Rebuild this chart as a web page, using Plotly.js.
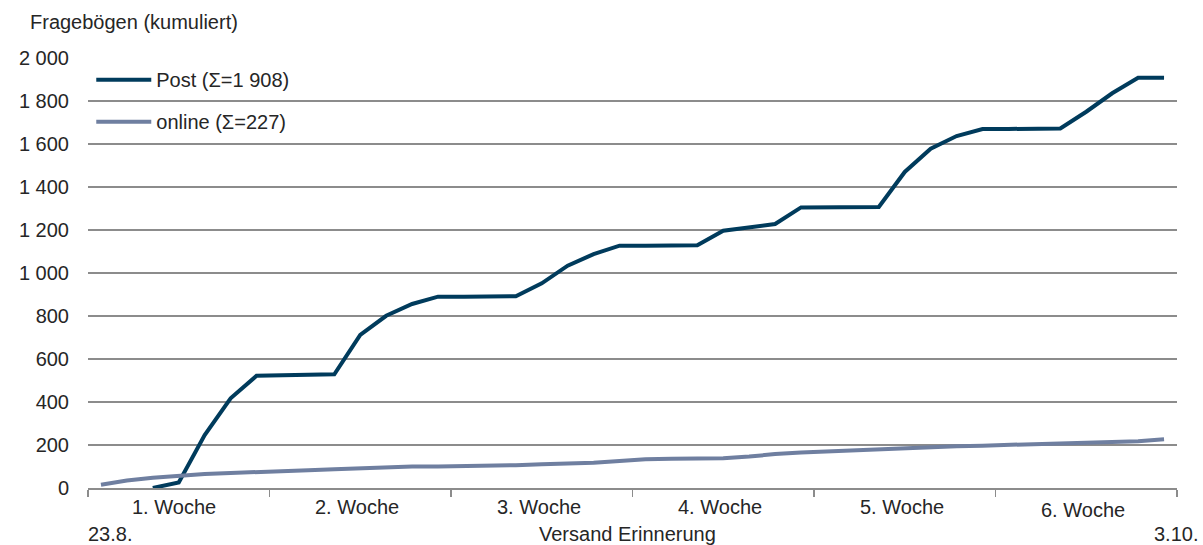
<!DOCTYPE html>
<html>
<head>
<meta charset="utf-8">
<script src="https://cdn.plot.ly/plotly-3.0.1.min.js"></script>
<style>html,body{margin:0;padding:0;background:#fff;}#chart{width:1203px;height:545px;}</style>
</head>
<body>
<div id="chart"></div>
<script>
// 42 days: 23.8. - 3.10.
const days = [
  '23.8.','24.8.','25.8.','26.8.','27.8.','28.8.','29.8.',
  '30.8.','31.8.','1.9.','2.9.','3.9.','4.9.','5.9.',
  '6.9.','7.9.','8.9.','9.9.','10.9.','11.9.','12.9.',
  '13.9.','14.9.','15.9.','16.9.','17.9.','18.9.','19.9.',
  '20.9.','21.9.','22.9.','23.9.','24.9.','25.9.','26.9.',
  '27.9.','28.9.','29.9.','30.9.','1.10.','2.10.','3.10.'
];
const postValues = [
  null, null, 0, 26, 246, 417, 522,
  523, 525, 529, 712, 801, 856, 890,
  890, 890, 892, 952, 1034, 1088, 1127,
  1127, 1127, 1129, 1197, 1212, 1228, 1305,
  1305, 1305, 1307, 1470, 1578, 1637, 1670,
  1670, 1670, 1672, 1750, 1836, 1908, 1908
];
const onlineValues = [
  15, 35, 48, 58, 65, 70, 73,
  75, 82, 87, 92, 98, 100, 100,
  101, 103, 106, 110, 113, 118, 126,
  134, 136, 137, 138, 146, 158, 165,
  170, 174, 181, 187, 192, 194, 197,
  201, 203, 206, 209, 214, 218, 227
];
const weekLabels = ['1. Woche','2. Woche','3. Woche','4. Woche','5. Woche','6. Woche'];
const seriesNames = ['Post (Σ=1 908)', 'online (Σ=227)'];
const yTicks = [0, 200, 400, 600, 800, 1000, 1200, 1400, 1600, 1800, 2000];

const FONT = 'Liberation Sans, Arial, sans-serif';
const TXT = '#262626';
const FS = 20;

// position of each day on the (day-index) axis
const dayPos = days.map((d, i) => i);
const daysPerWeek = 7;
const weekCenters = weekLabels.map((w, i) => i * daysPerWeek + (daysPerWeek - 1) / 2);

const traces = [
  {x: dayPos, y: postValues, text: days, name: seriesNames[0], legendgroup: 'a', type: 'scatter', mode: 'lines',
   line: {color: '#003b5c', width: 4}},
  {x: dayPos, y: onlineValues, text: days, name: seriesNames[1], legendgroup: 'b', type: 'scatter', mode: 'lines',
   line: {color: '#6f7fa0', width: 4}}
];

const annotations = weekLabels.map((t, i) => ({
  x: weekCenters[i], y: 0, xref: 'x', yref: 'paper', yanchor: 'top',
  yshift: i === 5 ? -9 : -6, xshift: i === 0 ? -5 : -3,
  text: t, showarrow: false, font: {family: FONT, size: FS, color: TXT}
}));
annotations.push(
  {x: 0, y: 1, xref: 'paper', yref: 'paper', xanchor: 'left', yanchor: 'bottom', yshift: 23, xshift: -60,
   text: 'Fragebögen (kumuliert)', showarrow: false, font: {family: FONT, size: FS, color: TXT}},
  {x: 0, y: 0, xref: 'paper', yref: 'paper', xanchor: 'left', yanchor: 'top', yshift: -33, xshift: -2,
   text: days[0], showarrow: false, font: {family: FONT, size: FS, color: TXT}},
  {x: 1, y: 0, xref: 'paper', yref: 'paper', xanchor: 'right', yanchor: 'top', yshift: -33, xshift: 23,
   text: days[days.length - 1], showarrow: false, font: {family: FONT, size: FS, color: TXT}},
  {x: 0.495, y: 0, xref: 'paper', yref: 'paper', xanchor: 'center', yanchor: 'top', yshift: -33,
   text: 'Versand Erinnerung', showarrow: false, font: {family: FONT, size: FS, color: TXT}}
);

const layout = {
  width: 1203, height: 545,
  margin: {l: 88, r: 26, t: 58, b: 57},
  paper_bgcolor: '#fff', plot_bgcolor: '#fff',
  font: {family: FONT, size: FS, color: TXT},
  separators: ', ',
  showlegend: true,
  legend: {x: 0.003, y: 0.995, xanchor: 'left', yanchor: 'top', bgcolor: 'rgba(0,0,0,0)',
           font: {family: FONT, size: FS, color: TXT}, itemwidth: 55,
           traceorder: 'grouped', tracegroupgap: 13},
  xaxis: {type: 'linear', range: [-0.5, days.length - 0.5], showgrid: false, zeroline: false,
          showline: true, linecolor: '#8c8c8c', linewidth: 2,
          tickmode: 'linear', tick0: -0.5, dtick: daysPerWeek, ticks: 'outside', ticklen: 7,
          tickcolor: '#8c8c8c', tickwidth: 1.5, showticklabels: false},
  yaxis: {range: [0, 2000], tickvals: yTicks, separatethousands: true,
          showgrid: true, gridcolor: '#8c8c8c', gridwidth: 2,
          zeroline: false, showline: false, ticks: '', ticklabelstandoff: 18,
          tickfont: {family: FONT, size: FS, color: TXT}},
  annotations: annotations
};

Plotly.newPlot('chart', traces, layout, {displayModeBar: false, staticPlot: true});
</script>
</body>
</html>
